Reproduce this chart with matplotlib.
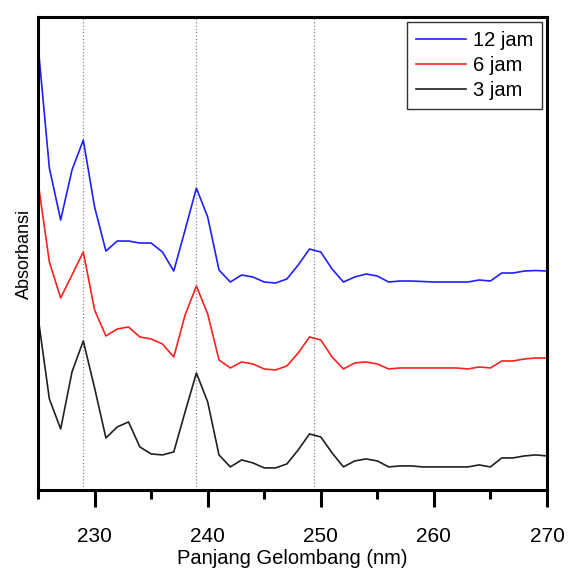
import numpy as np
import matplotlib.pyplot as plt

plt.rcParams['font.family'] = ['Liberation Sans', 'DejaVu Sans']

# 波长 (nm)
wavelength = np.arange(225, 271)

# 吸光度 (任意单位, 曲线已上下错开)
abs_12 = [4.45, 3.22, 2.70, 3.20, 3.50, 2.83, 2.39, 2.49, 2.49, 2.47,
          2.47, 2.38, 2.19, 2.60, 3.02, 2.73, 2.20, 2.08, 2.15, 2.13,
          2.08, 2.07, 2.11, 2.25, 2.41, 2.38, 2.21, 2.08, 2.13, 2.16,
          2.14, 2.08, 2.09, 2.09, 2.085, 2.08, 2.08, 2.08, 2.08, 2.10,
          2.09, 2.17, 2.17, 2.19, 2.195, 2.19]
abs_6 = [3.08, 2.28, 1.92, 2.15, 2.38, 1.80, 1.54, 1.61, 1.63, 1.53,
         1.51, 1.46, 1.33, 1.75, 2.04, 1.76, 1.30, 1.22, 1.28, 1.26,
         1.21, 1.20, 1.24, 1.37, 1.53, 1.50, 1.33, 1.21, 1.27, 1.28,
         1.26, 1.21, 1.22, 1.22, 1.22, 1.22, 1.22, 1.22, 1.21, 1.23,
         1.22, 1.29, 1.29, 1.31, 1.32, 1.32]
abs_3 = [1.73, 0.91, 0.61, 1.18, 1.49, 1.02, 0.52, 0.63, 0.68, 0.43,
         0.36, 0.35, 0.38, 0.78, 1.17, 0.88, 0.35, 0.23, 0.30, 0.27,
         0.22, 0.22, 0.26, 0.40, 0.56, 0.53, 0.37, 0.23, 0.29, 0.31,
         0.29, 0.23, 0.24, 0.24, 0.23, 0.23, 0.23, 0.23, 0.23, 0.25,
         0.23, 0.32, 0.32, 0.34, 0.35, 0.34]

# 峰位参考线
peak_lines = [229, 239, 249.4]

fig = plt.figure(figsize=(5.68, 5.71), dpi=100)
ax = fig.add_axes([0.067, 0.142, 0.896, 0.828])

for p in peak_lines:
    ax.axvline(p, color='#888888', linestyle=':', linewidth=0.9, zorder=1)

ax.plot(wavelength, abs_12, color='#2020ff', linewidth=1.2, label='12 jam')
ax.plot(wavelength, abs_6, color='#ff2020', linewidth=1.2, label='6 jam')
ax.plot(wavelength, abs_3, color='#202020', linewidth=1.2, label='3 jam')

ax.set_xlim(225, 270)
ax.set_ylim(0, 4.73)
ax.set_xticks([230, 240, 250, 260, 270])
ax.set_xticks([225, 235, 245, 255, 265], minor=True)
ax.set_yticks([])
ax.tick_params(axis='x', which='major', direction='out', length=12, width=2.2,
               labelsize=15, pad=15)
ax.tick_params(axis='x', which='minor', direction='out', length=6.5, width=2.2)
for s in ax.spines.values():
    s.set_linewidth(2.2)

ax.set_xlabel('Panjang Gelombang (nm)', fontsize=14.5, labelpad=2)
ax.set_ylabel('Absorbansi', fontsize=13, labelpad=4)

leg = ax.legend(loc='upper right', fontsize=14.5, frameon=True, fancybox=False,
                edgecolor='black', handlelength=2.5, handletextpad=0.3,
                labelspacing=0.3, borderpad=0.45, borderaxespad=0.25)
leg.get_frame().set_linewidth(1.0)

plt.savefig('out.png', dpi=100)
